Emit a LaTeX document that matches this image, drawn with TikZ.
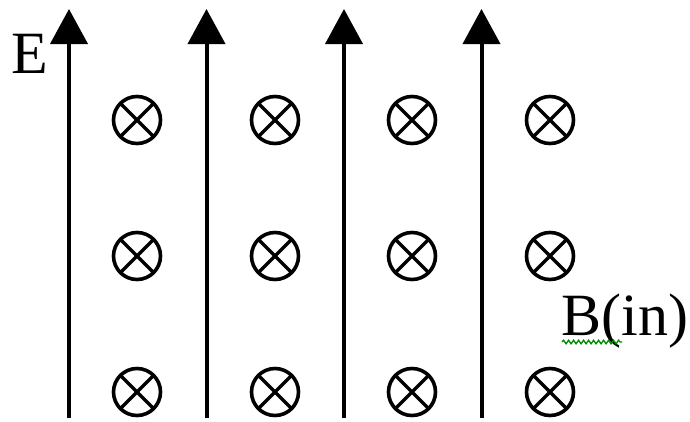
\documentclass[tikz,border=0pt]{standalone}
\usepackage{fontspec}
\setmainfont{Liberation Serif}
\usetikzlibrary{arrows.meta,decorations.pathmorphing}
\begin{document}
\begin{tikzpicture}[x=1pt,y=-1pt,
  fieldline/.style={line width=4pt,-{Triangle[length=35pt,width=37pt]}},
  bin/.style={circle,draw,line width=3.6pt,minimum size=47pt,inner sep=0pt,
    path picture={\draw[line width=3.4pt]
      (path picture bounding box.north west)--(path picture bounding box.south east)
      (path picture bounding box.north east)--(path picture bounding box.south west);}},
  lbl/.style={font=\fontsize{60}{60}\selectfont,inner sep=0pt,anchor=base},
  squiggle/.style={draw=green!55!black,line width=1.3pt,decorate,
    decoration={snake,amplitude=1.8pt,segment length=5pt}}]
\useasboundingbox (0,0) rectangle (690,421);
\foreach \i/\x in {1/69,2/206.5,3/344,4/481.5}{
  \coordinate (b\i) at (\x,418);
  \coordinate (t\i) at (\x,9);
  \draw[fieldline] (b\i) -- (t\i);
}
\foreach \j/\x in {1/137,2/275,3/412,4/550}{
  \foreach \k/\y in {1/120,2/256,3/392}{
    \node[bin] (c\j\k) at (\x,\y) {};
  }
}
\node[lbl] (E) at (30,73) {E};
\node[lbl] (B) at (625,335) {B(in)};
\coordinate (s1) at (562,342);
\coordinate (s2) at (622,342);
\draw[squiggle] (s1) -- (s2);
\end{tikzpicture}
\end{document}
